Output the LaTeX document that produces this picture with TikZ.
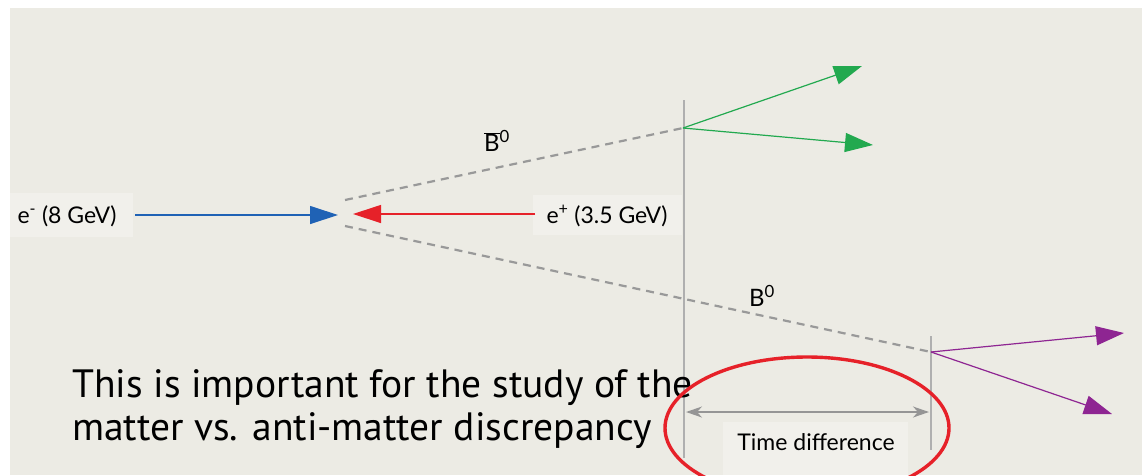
\documentclass[tikz,border=0pt]{standalone}
\usepackage{fontspec}
\setmainfont{Lato}
\newfontfamily\bigfont{PT Sans}
\usetikzlibrary{arrows.meta,shapes.geometric}
\definecolor{bg}{HTML}{ECEBE4}
\definecolor{boxbg}{HTML}{F1F0EB}
\definecolor{eblue}{HTML}{1F62B5}
\definecolor{ered}{HTML}{E62129}
\definecolor{egreen}{HTML}{22A94F}
\definecolor{epurple}{HTML}{8E2592}
\definecolor{dashgrey}{HTML}{999999}
\definecolor{vgrey}{HTML}{AFAFAF}
\tikzset{
  lbl/.style={font=\fontsize{23}{27}\selectfont, text=black, inner sep=0pt},
  beam/.style={line width=1.2pt, -{Triangle[length=28pt,width=18pt]}},
  decay/.style={line width=1.2pt, -{Triangle[length=28pt,width=19pt]}},
  track/.style={dashgrey, line width=2.2pt, dash pattern=on 8pt off 6pt},
  vline/.style={vgrey, line width=1.5pt},
  big/.style={font=\bigfont\fontsize{39.5}{44}\selectfont, inner sep=0pt, anchor=base west}
}
\begin{document}
\begin{tikzpicture}[x=1pt,y=-1pt]
\useasboundingbox (0,0) rectangle (1142,475);
\fill[white] (0,0) rectangle (1142,475);
\fill[bg] (10,8) rectangle (1142,475);
% label boxes
\fill[boxbg] (10,193) rectangle (133,237);
\fill[boxbg] (533,195) rectangle (682,235);
\fill[boxbg] (723,422) rectangle (908,475);
% coordinates
\coordinate (ipu) at (345,200);
\coordinate (ipd) at (345,226);
\coordinate (v1) at (683,128);
\coordinate (v2) at (931,352);
\coordinate (bs) at (135,215);
\coordinate (bt) at (338,215);
\coordinate (rs) at (535,214);
\coordinate (rt) at (353,214);
\coordinate (g1) at (862,66);
\coordinate (g2) at (873,145);
\coordinate (p1) at (1124,333);
\coordinate (p2) at (1112,414);
\coordinate (v1top) at (684,100);
\coordinate (v1bot) at (684,458);
\coordinate (v2top) at (931,336);
\coordinate (v2bot) at (931,450);
\coordinate (ta) at (686,412);
\coordinate (tb) at (929,412);
% vertical lines
\draw[vline] (v1top) -- (v1bot);
\draw[vline] (v2top) -- (v2bot);
% tracks
\draw[track] (ipu) -- (v1);
\draw[track] (ipd) -- (v2);
% beams
\draw[beam, eblue] (bs) -- (bt);
\draw[beam, ered] (rs) -- (rt);
% decays
\draw[decay, egreen] (v1) -- (g1);
\draw[decay, egreen] (v1) -- (g2);
\draw[decay, epurple] (v2) -- (p1);
\draw[decay, epurple] (v2) -- (p2);
% time difference
\draw[vgrey!85!black, line width=1.5pt, {Stealth[length=16pt,width=11pt,inset=5pt]}-{Stealth[length=16pt,width=11pt,inset=5pt]}] (ta) -- (tb);
\node[lbl] (td) at (816,442) {Time difference};
% labels
\node[lbl] (em) at (67,216) {e\textsuperscript{-} (8 GeV)};
\node[lbl] (ep) at (607,216) {e\textsuperscript{+} (3.5 GeV)};
\node[lbl, font=\fontsize{24}{28}\selectfont] (bbar) at (497,141) {$\overline{\mbox{B}}$\textsuperscript{0}};
\node[lbl, font=\fontsize{24}{28}\selectfont] (b0) at (762,296) {B\textsuperscript{0}};
% big text
\node[big] (t1) at (72,397) {This is important for the study of the};
\node[big] (t2) at (72,440) {matter vs. anti-matter discrepancy};
% red ellipse
\node[ellipse, draw=ered, line width=3.4pt, minimum width=284pt, minimum height=142pt, inner sep=0pt] (circ) at (807,428) {};
\end{tikzpicture}
\end{document}
